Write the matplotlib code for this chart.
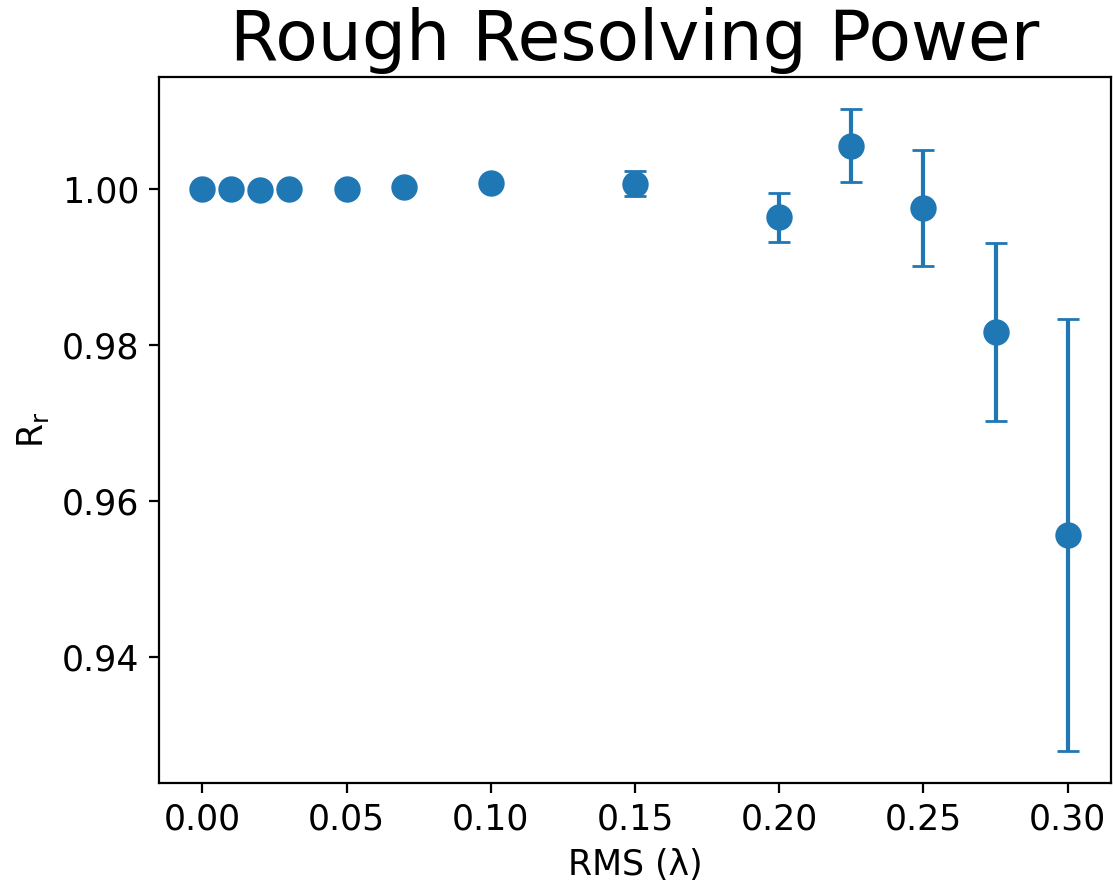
import matplotlib
matplotlib.use("Agg")
import matplotlib.pyplot as plt

rms = [0.0, 0.01, 0.02, 0.03, 0.05, 0.07, 0.10, 0.15, 0.20, 0.225, 0.25, 0.275, 0.30]
r_r = [1.0000, 1.0000, 0.9998, 1.0000, 1.0000, 1.0002, 1.0007, 1.0006, 0.9963, 1.0055, 0.9975, 0.9816, 0.9556]
r_err = [0.0001, 0.0001, 0.0001, 0.0001, 0.0001, 0.0002, 0.0003, 0.0016, 0.0031, 0.0047, 0.0074, 0.0114, 0.0277]

fig = plt.figure(figsize=(1113 / 200, 890 / 200), dpi=200)
ax = fig.add_axes([159 / 1113, 1 - 783 / 890, (1111 - 159) / 1113, (783 - 77) / 890])

ax.errorbar(rms, r_r, yerr=r_err, fmt='o', color='#1f77b4', markersize=8.5, capsize=4, elinewidth=1.5)

ax.set_title("Rough Resolving Power", fontsize=25)
ax.set_xlabel("RMS (λ)", fontsize=12.5)
ax.set_ylabel(r"R$_{\rm r}$", fontsize=12.5)
ax.tick_params(labelsize=12.5)
ax.set_yticks([0.94, 0.96, 0.98, 1.00])
ax.set_xticks([0.0, 0.05, 0.10, 0.15, 0.20, 0.25, 0.30])

fig.savefig("out.png", dpi=200)
